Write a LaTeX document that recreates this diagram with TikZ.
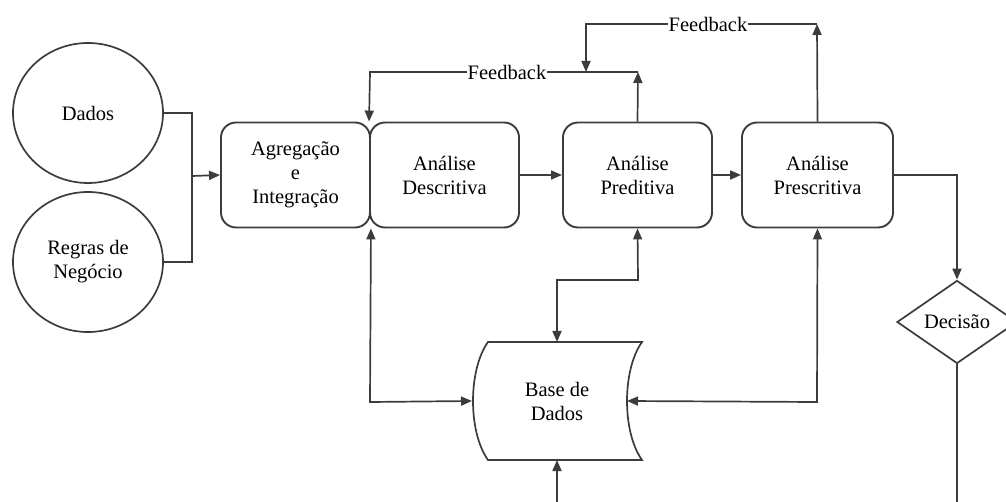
\documentclass[tikz,border=0pt]{standalone}
\usepackage{fontspec}
\setmainfont{Liberation Serif}
\usetikzlibrary{shapes.geometric,arrows.meta}
\definecolor{ink}{HTML}{3c3c3c}
\begin{document}
\begin{tikzpicture}[x=1pt,y=-1pt,
  every node/.style={font=\fontsize{20.5}{24}\selectfont, align=center, text=black},
  proc/.style={draw=ink, line width=1.9pt, rounded corners=15pt, minimum height=105pt, inner sep=0pt},
  source/.style={draw=ink, line width=1.7pt, ellipse, minimum width=150pt, minimum height=140pt, inner sep=0pt},
  link/.style={draw=ink, line width=1.7pt},
  arr/.style={link, -{Triangle[length=11pt,width=9pt]}},
  biarr/.style={link, {Triangle[length=11pt,width=9pt]}-{Triangle[length=11pt,width=9pt]}},
  fblabel/.style={fill=white, inner sep=1pt}]
\useasboundingbox (0,0) rectangle (1006,502);

% inputs
\node[source] (dados) at (88,113) {Dados};
\node[source] (regras) at (88,262) {Regras de\\Negócio};

% process chain
\node[proc, minimum width=149pt] (agr) at (295.5,175) {Agregação\\e\\Integração};
\node[proc, minimum width=149pt] (desc) at (444.5,175) {Análise\\Descritiva};
\node[proc, minimum width=149pt] (pred) at (637.5,175) {Análise\\Preditiva};
\node[proc, minimum width=151pt] (presc) at (817.5,175) {Análise\\Prescritiva};

% database
\draw[ink, line width=1.7pt] (488,342) -- (642,342)
  .. controls (622,370) and (622,432) .. (642,460) -- (488,460)
  .. controls (468,432) and (468,370) .. cycle;
\node (db) at (557,401) {Base de\\Dados};
\coordinate (dbL) at (472,401);
\coordinate (dbR) at (627,401);
\coordinate (dbT) at (557,342);
\coordinate (dbB) at (557,460);

% decision
\node[draw=ink, line width=1.7pt, diamond, minimum width=120pt, minimum height=83pt, inner sep=0pt] (dec) at (957,322) {Decisão};

% routing points
\coordinate (merge) at (192,176);
\coordinate (fb1) at (638,72);
\coordinate (fb2) at (817,24);
\coordinate (bottomIn) at (557,502);
\coordinate (bottomOut) at (957,502);

% inputs merge into aggregation
\draw[link] (dados.east) -| (merge);
\draw[link] (regras.east) -| (merge);
\draw[arr] (merge) -- (agr.west);

% forward flow
\draw[arr] (desc.east) -- (pred.west);
\draw[arr] (pred.east) -- (presc.west);
\draw[arr] (presc.east) -| (dec.north);
\draw[link] (dec.south) -- (bottomOut);

% feedback loops
\draw[arr] (pred.north) -- (fb1);
\draw[arr] (fb1) -- (370,72) -- (desc.north west);
\draw[arr] (presc.north) -- (fb2);
\draw[arr] (fb2) -- (586,24) -- (586,72);
\node[fblabel] (fbl1) at (507,72) {Feedback};
\node[fblabel] (fbl2) at (708,24) {Feedback};

% database exchanges
\draw[biarr] (agr.south east) -- (370,402) -- (dbL);
\draw[biarr] (pred.south) -- (638,280) -- (557,280) -- (dbT);
\draw[biarr] (presc.south) -- (817,402) -- (dbR);
\draw[arr] (bottomIn) -- (dbB);
\end{tikzpicture}
\end{document}
